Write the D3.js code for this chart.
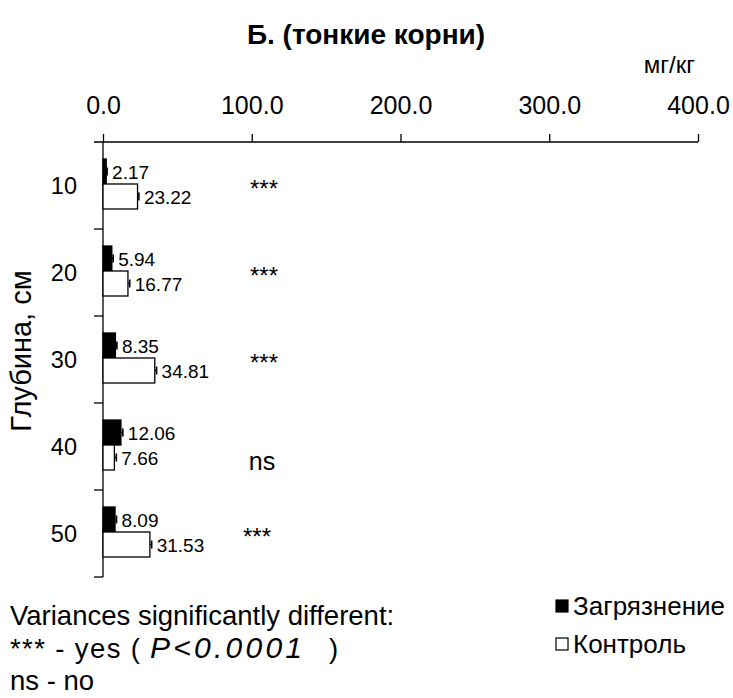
<!DOCTYPE html>
<html>
<head>
<meta charset="utf-8">
<script src="https://cdn.jsdelivr.net/npm/d3@7"></script>
<style>
  html, body { margin: 0; padding: 0; background: #fff; }
  svg text { font-family: "Liberation Sans", Arial, sans-serif; fill: #000; }
</style>
</head>
<body>
<svg id="chart" width="733" height="698"></svg>
<script>
// Depth layers (cm)
const depths = ["10", "20", "30", "40", "50"];
// Series: polluted vs control, mg/kg in fine roots
const seriesNames = ["Загрязнение", "Контроль"];
const polluted = [2.17, 5.94, 8.35, 12.06, 8.09];
const control = [23.22, 16.77, 34.81, 7.66, 31.53];
// Error bar half-widths
const pollutedErr = [0.6, 0.9, 1.0, 1.3, 1.0];
const controlErr = [0.9, 1.2, 1.2, 1.3, 1.2];
// Variance test marks
const significance = ["***", "***", "***", "ns", "***"];
const xTicks = [0, 100, 200, 300, 400];

const svg = d3.select("#chart");

const x = d3.scaleLinear().domain([0, 400]).range([103, 698]);
const y = d3.scaleBand().domain(depths).range([142, 577]).paddingInner(0).paddingOuter(0);
const inner = d3.scaleBand().domain(seriesNames).range([17, 67]);

// Title and unit
svg.append("text").attr("x", 366).attr("y", 44).attr("text-anchor", "middle")
  .style("font-size", "28px").style("font-weight", "bold").text("Б. (тонкие корни)");
svg.append("text").attr("x", 695).attr("y", 73).attr("text-anchor", "end")
  .style("font-size", "24px").text("мг/кг");

// Top value axis
const xAxis = svg.append("g").attr("transform", "translate(0,142)")
  .call(d3.axisTop(x).tickValues(xTicks).tickSize(8).tickSizeOuter(0).tickPadding(20)
    .tickFormat(d3.format(".1f")));
xAxis.select(".domain").remove();
xAxis.selectAll(".tick line").attr("stroke", "#000").attr("stroke-width", 1.3);
xAxis.selectAll(".tick text").style("font-size", "25px");
svg.append("line").attr("x1", 94).attr("x2", x(400)).attr("y1", 142).attr("y2", 142)
  .attr("stroke", "#000").attr("stroke-width", 1.3);

// Category axis with ticks at band boundaries
svg.append("line").attr("x1", x(0)).attr("x2", x(0)).attr("y1", 142).attr("y2", 577)
  .attr("stroke", "#000").attr("stroke-width", 1.3);
const bounds = depths.map(d => y(d)).concat([y(depths[depths.length - 1]) + y.bandwidth()]);
svg.selectAll(".ytick").data(bounds.slice(1)).join("line")
  .attr("x1", x(0) - 9).attr("x2", x(0)).attr("y1", d => d).attr("y2", d => d)
  .attr("stroke", "#000").attr("stroke-width", 1.3);
svg.selectAll(".ylab").data(depths).join("text")
  .attr("x", 77).attr("y", d => y(d) + y.bandwidth() / 2 + 8)
  .attr("text-anchor", "end").style("font-size", "23.5px").text(d => d);

// Axis title
svg.append("text").attr("transform", "translate(31,351) rotate(-90)")
  .attr("text-anchor", "middle").style("font-size", "29px").text("Глубина, см");

// Bars
const rows = depths.map((d, i) => ({
  depth: d,
  vals: [
    { s: seriesNames[0], v: polluted[i], e: pollutedErr[i], fill: "#000" },
    { s: seriesNames[1], v: control[i], e: controlErr[i], fill: "#fff" }
  ]
}));
const groups = svg.selectAll(".row").data(rows).join("g")
  .attr("transform", d => "translate(0," + y(d.depth) + ")");
const bars = groups.selectAll(".bar").data(d => d.vals).join("g");
bars.append("rect")
  .attr("x", x(0)).attr("y", d => inner(d.s))
  .attr("width", d => x(d.v) - x(0)).attr("height", inner.bandwidth())
  .attr("fill", d => d.fill).attr("stroke", "#000").attr("stroke-width", 1.3);
// Error bars
bars.append("line")
  .attr("x1", d => x(d.v)).attr("x2", d => x(d.v + d.e))
  .attr("y1", d => inner(d.s) + inner.bandwidth() / 2).attr("y2", d => inner(d.s) + inner.bandwidth() / 2)
  .attr("stroke", "#000").attr("stroke-width", 1.3);
bars.append("line")
  .attr("x1", d => x(d.v + d.e)).attr("x2", d => x(d.v + d.e))
  .attr("y1", d => inner(d.s) + inner.bandwidth() / 2 - 4).attr("y2", d => inner(d.s) + inner.bandwidth() / 2 + 4)
  .attr("stroke", "#000").attr("stroke-width", 1.6);
// Value labels
bars.append("text")
  .attr("x", d => x(d.v + d.e) + 5).attr("y", d => inner(d.s) + inner.bandwidth() / 2 + 7)
  .style("font-size", "19px").text(d => d.v.toFixed(2));

// Significance marks
groups.append("text")
  .attr("x", (d, i) => significance[i] === "ns" ? 262 : (i === 4 ? 257 : 264))
  .attr("y", (d, i) => y.bandwidth() / 2 + (significance[i] === "ns" ? 23 : 11))
  .attr("text-anchor", "middle")
  .style("font-size", (d, i) => significance[i] === "ns" ? "25px" : "24px")
  .text((d, i) => significance[i]);

// Footnote
svg.append("text").attr("x", 10).attr("y", 625).style("font-size", "27.5px")
  .text("Variances significantly different:");
const yes = svg.append("text").attr("x", 10).attr("y", 658).style("font-size", "27.5px");
yes.append("tspan").attr("x", 10).attr("textLength", 130).attr("lengthAdjust", "spacing").text("*** - yes (");
yes.append("tspan").attr("x", 150).attr("textLength", 152).attr("lengthAdjust", "spacing")
  .style("font-style", "italic").style("font-size", "30px").text("P<0.0001");
yes.append("tspan").attr("x", 329).text(")");
svg.append("text").attr("x", 10).attr("y", 690).style("font-size", "27.5px").text("ns - no");

// Legend
const legend = svg.selectAll(".leg").data(seriesNames).join("g")
  .attr("transform", (d, i) => "translate(556," + (600 + i * 38) + ")");
legend.append("rect").attr("width", 12).attr("height", 12)
  .attr("fill", (d, i) => i === 0 ? "#000" : "#fff").attr("stroke", "#000").attr("stroke-width", 1.2);
legend.append("text").attr("x", 17).attr("y", 15)
  .style("font-size", "26px").text(d => d);
</script>
</body>
</html>
